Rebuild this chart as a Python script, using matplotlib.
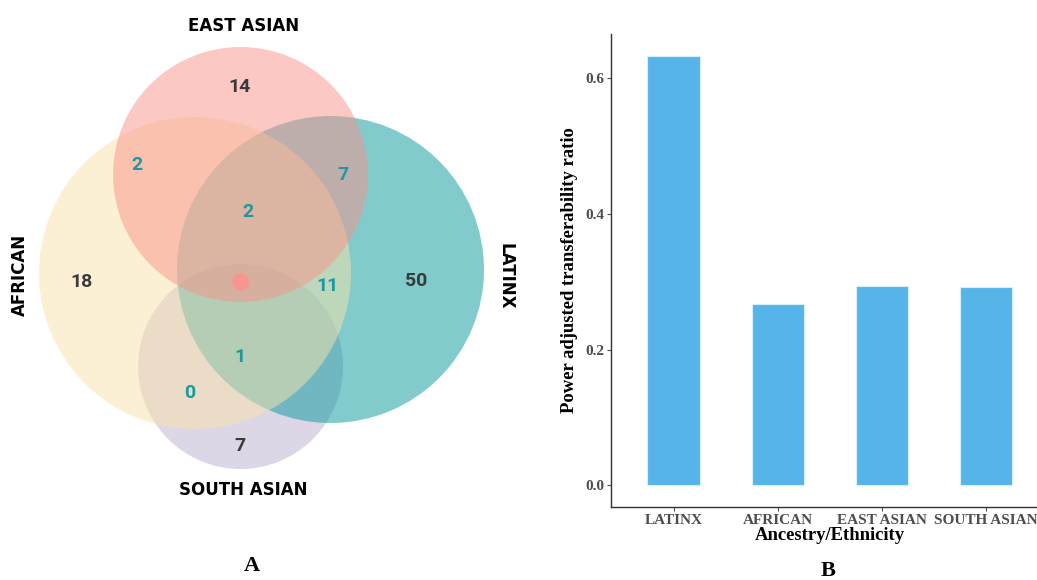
import matplotlib
matplotlib.use("Agg")
import matplotlib.pyplot as plt
from matplotlib.patches import Circle

# ---------------- data ----------------
venn_sets = ["EAST ASIAN", "AFRICAN", "LATINX", "SOUTH ASIAN"]
# region counts (label, count)
unique_counts = {"EAST ASIAN": 14, "AFRICAN": 18, "LATINX": 50, "SOUTH ASIAN": 7}
overlap_labels = ["EA&AF", "EA&LA", "EA&AF&LA", "AF&LA", "AF&LA&SA", "AF&SA"]
overlap_counts = [2, 7, 2, 11, 1, 0]

categories = ["LATINX", "AFRICAN", "EAST ASIAN", "SOUTH ASIAN"]
ratios = [0.633, 0.267, 0.294, 0.2916]
yticks = [0.0, 0.2, 0.4, 0.6]

# ---------------- figure ----------------
W, H = 1037, 580
fig = plt.figure(figsize=(W / 100, H / 100), dpi=100)
fig.patch.set_facecolor("white")

# Venn panel drawn in a pixel-space overlay axes
av = fig.add_axes([0, 0, 1, 1])
av.set_xlim(0, W)
av.set_ylim(H, 0)
av.axis("off")

# circle layout: (cx, cy, r, color), drawn in this order
circles = {
    "SOUTH ASIAN": (240.5, 366.5, 102.5, "#BBAFD1"),
    "LATINX": (330.5, 269.5, 153.5, "#05999D"),
    "AFRICAN": (195.0, 273.0, 156.0, "#FAE3AA"),
    "EAST ASIAN": (240.5, 174.5, 127.5, "#F9938B"),
}
for name in ["SOUTH ASIAN", "LATINX", "AFRICAN", "EAST ASIAN"]:
    cx, cy, r, col = circles[name]
    av.add_patch(Circle((cx, cy), r, facecolor=col, edgecolor="none", alpha=0.5))
av.add_patch(Circle((240.5, 282), 8.5, facecolor="#F9958F", edgecolor="none"))

num_font = dict(family=["Roboto", "DejaVu Sans"], fontweight="bold", fontsize=14)
dark = "#3a3a3a"
teal = "#1a9aa0"

unique_pos = {"EAST ASIAN": (240, 87), "AFRICAN": (82, 282),
              "LATINX": (416, 281), "SOUTH ASIAN": (240, 446)}
for name in venn_sets:
    x, y = unique_pos[name]
    av.text(x, y, str(unique_counts[name]), color=dark, ha="center", va="center", **num_font)

overlap_pos = [(137, 165), (343, 175), (248, 212), (328, 286), (240, 357), (190, 393)]
for (x, y), c in zip(overlap_pos, overlap_counts):
    av.text(x, y, str(c), color=teal, ha="center", va="center", **num_font)

lab_font = dict(family="DejaVu Sans", fontweight="bold", fontsize=12, color="black")
av.text(244, 26, "EAST ASIAN", ha="center", va="center", **lab_font)
av.text(243, 490, "SOUTH ASIAN", ha="center", va="center", **lab_font)
av.text(20, 275, "AFRICAN", ha="center", va="center", rotation=90, **lab_font)
av.text(506, 276, "LATINX", ha="center", va="center", rotation=-90, **lab_font)

serif = "Liberation Serif"
av.text(252, 566, "A", ha="center", va="center", family=serif, fontweight="bold", fontsize=16)
av.text(828, 571, "B", ha="center", va="center", family=serif, fontweight="bold", fontsize=16)

# ---------------- bar panel ----------------
left_px, right_px, top_px, bot_px = 611, 1048.6, 34.3, 506.7
ab = fig.add_axes([left_px / W, 1 - bot_px / H, (right_px - left_px) / W, (bot_px - top_px) / H])
ab.patch.set_alpha(0)
xpos = list(range(1, len(categories) + 1))
ab.bar(xpos, ratios, width=0.5, color="#56B4E9", edgecolor="#d6f0fb", linewidth=0.8)
ab.set_xlim(0.4, 4.6)
ab.set_ylim(-0.0317, 0.665)
ab.set_yticks(yticks)
ab.set_yticklabels([f"{t:.1f}" for t in yticks])
ab.set_xticks(xpos)
ab.set_xticklabels(categories)
for s in ["top", "right"]:
    ab.spines[s].set_visible(False)
for s in ["left", "bottom"]:
    ab.spines[s].set_color("#333333")
    ab.spines[s].set_linewidth(1.0)
ab.tick_params(axis="both", colors="#4d4d4d", length=3, width=0.8, pad=2)
for lab in ab.get_xticklabels() + ab.get_yticklabels():
    lab.set_family(serif)
    lab.set_fontweight("bold")
    lab.set_fontsize(11)
    lab.set_color("#4d4d4d")
ab.set_ylabel("Power adjusted transferability ratio", family=serif, fontweight="bold",
              fontsize=13.4, color="black", labelpad=5)
ab.set_xlabel("Ancestry/Ethnicity", family=serif, fontweight="bold", fontsize=13.4,
              color="black", labelpad=0)

fig.savefig("out.png", dpi=100, facecolor="white")
